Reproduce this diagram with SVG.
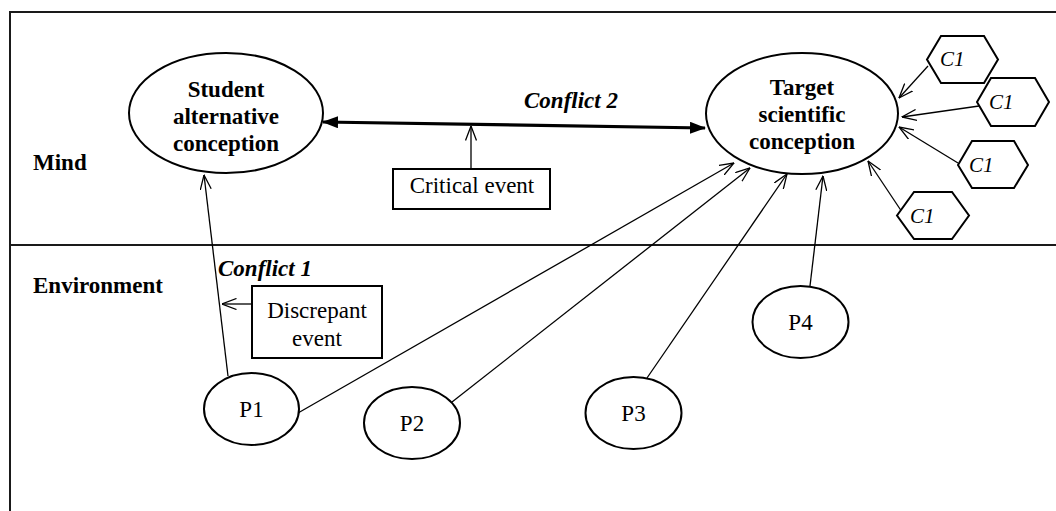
<svg xmlns="http://www.w3.org/2000/svg" width="1056" height="511" viewBox="0 0 1056 511">
<defs>
<marker id="open" markerUnits="userSpaceOnUse" viewBox="0 0 15 12" refX="14.5" refY="6" markerWidth="15" markerHeight="12" orient="auto">
<path d="M0,0.5 L14.5,6 L0,11.5" fill="none" stroke="#000" stroke-width="1.3"/>
</marker>
<marker id="solid" markerUnits="userSpaceOnUse" viewBox="0 0 16 12" refX="15" refY="6" markerWidth="16" markerHeight="12" orient="auto-start-reverse">
<path d="M0,0 L16,6 L0,12 Z" fill="#000"/>
</marker>
<style>
.frame{fill:none;stroke:#1a1a1a;stroke-width:2}
.node{fill:#fff;stroke:#000;stroke-width:2}
.box{fill:#fff;stroke:#000;stroke-width:2}
.arr{fill:none;stroke:#000;stroke-width:1.3;marker-end:url(#open)}
.thick{fill:none;stroke:#000;stroke-width:3.2;marker-start:url(#solid);marker-end:url(#solid)}
text{font-family:'Liberation Serif','Times New Roman',Times,Tinos,'Nimbus Roman','DejaVu Serif',serif;fill:#000}
.b{font-size:23px;font-weight:bold}
.bi{font-size:23px;font-weight:bold;font-style:italic}
.r{font-size:23px}
.c{text-anchor:middle}
.ci{font-size:21px;font-style:italic}
</style>
</defs>
<g id="frame">
<path class="frame" d="M10,511 L10,12 L1056,12"/>
<line class="frame" x1="10" y1="245" x2="1056" y2="245"/>
<text class="b" x="33" y="170" font-family="Liberation Serif, serif">Mind</text>
<text class="b" x="33" y="293" font-family="Liberation Serif, serif">Environment</text>
</g>
<g id="connectors">
<line class="thick" x1="323" y1="122" x2="705" y2="128"/>
<line class="arr" x1="471" y1="169" x2="471" y2="126"/>
<line class="arr" x1="252" y1="304" x2="222" y2="304"/>
<line class="arr" x1="228" y1="376" x2="204" y2="175"/>
<line class="arr" x1="298" y1="413" x2="734" y2="163"/>
<line class="arr" x1="452" y1="402" x2="750" y2="168"/>
<line class="arr" x1="647" y1="378" x2="787" y2="174"/>
<line class="arr" x1="810" y1="286" x2="823" y2="176"/>
<line class="arr" x1="928" y1="66" x2="899" y2="98"/>
<line class="arr" x1="979" y1="106" x2="902" y2="117"/>
<line class="arr" x1="958" y1="163" x2="899" y2="127"/>
<line class="arr" x1="902" y1="212" x2="868" y2="161"/>
<text class="bi" x="524" y="108">Conflict 2</text>
<text class="bi" x="218" y="276">Conflict 1</text>
</g>
<g id="student">
<ellipse class="node" cx="226" cy="113" rx="97" ry="60"/>
<text class="b c" x="226" y="97">Student</text>
<text class="b c" x="226" y="124">alternative</text>
<text class="b c" x="226" y="151">conception</text>
</g>
<g id="target">
<ellipse class="node" cx="802" cy="113.5" rx="96" ry="60.5"/>
<text class="b c" x="802" y="95">Target</text>
<text class="b c" x="802" y="122">scientific</text>
<text class="b c" x="802" y="149">conception</text>
</g>
<g id="critical">
<rect class="box" x="393" y="169" width="157" height="40"/>
<text class="r c" x="472" y="193">Critical event</text>
</g>
<g id="discrepant">
<rect class="box" x="252" y="286" width="130" height="72"/>
<text class="r c" x="317" y="318">Discrepant</text>
<text class="r c" x="317" y="346">event</text>
</g>
<g id="p1">
<ellipse class="node" cx="251.5" cy="409" rx="47.5" ry="36"/>
<text class="r c" x="251.5" y="417">P1</text>
</g>
<g id="p2">
<ellipse class="node" cx="412" cy="423" rx="48" ry="36"/>
<text class="r c" x="412" y="431">P2</text>
</g>
<g id="p3">
<ellipse class="node" cx="633.5" cy="413" rx="48" ry="36"/>
<text class="r c" x="633.5" y="421">P3</text>
</g>
<g id="p4">
<ellipse class="node" cx="800.5" cy="322" rx="48" ry="36"/>
<text class="r c" x="800.5" y="330">P4</text>
</g>
<g id="c1a">
<polygon class="node" points="927,59.5 941,36 984,36 998,59.5 984,83 941,83"/>
<text class="ci" x="940" y="66">C1</text>
</g>
<g id="c1b">
<polygon class="node" points="977,102 991,78 1035,78 1049,102 1035,126 991,126"/>
<text class="ci" x="989" y="109">C1</text>
</g>
<g id="c1c">
<polygon class="node" points="958,165 972,141 1014,141 1028,165 1014,188 972,188"/>
<text class="ci" x="969" y="172">C1</text>
</g>
<g id="c1d">
<polygon class="node" points="897,215.5 914,192 952,192 969,215.5 952,239 914,239"/>
<text class="ci" x="910" y="223">C1</text>
</g>
</svg>
